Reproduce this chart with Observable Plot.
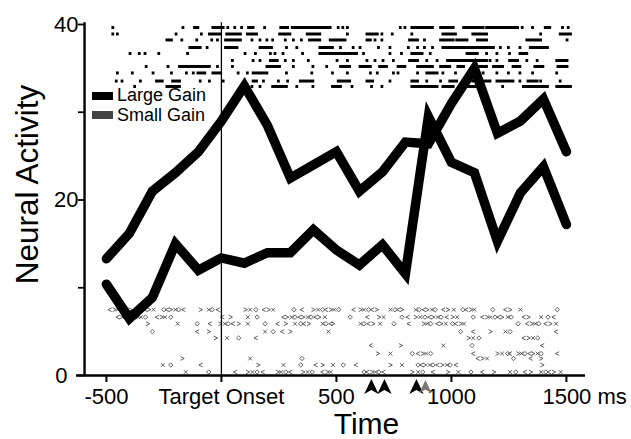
<!DOCTYPE html>
<html><head><meta charset="utf-8">
<script src="https://cdn.jsdelivr.net/npm/d3@7"></script>
<script src="https://cdn.jsdelivr.net/npm/@observablehq/plot@0.6"></script>
<style>
html,body{margin:0;padding:0;background:#fff;}
#chart{position:relative;width:631px;height:439px;overflow:hidden;}
.legend{position:absolute;left:92px;top:86px;font:18px "Liberation Sans",Arial,sans-serif;color:#000;}
.legend .row{display:flex;align-items:center;height:19.5px;white-space:nowrap;}
.legend .sw{width:21px;height:8px;margin-right:4px;}
</style></head><body><div id="chart"></div>
<script>
// ---- data ----
const times = [-500,-400,-300,-200,-100,0,100,200,300,400,500,600,700,800,900,1000,1100,1200,1300,1400,1500];
const largeGain = [13.3,16.2,21.0,23.1,25.5,29.0,33.0,28.5,22.5,24.0,25.5,21.0,23.2,26.6,26.4,31.0,35.0,27.6,29.0,31.5,25.5];
const smallGain = [10.4,6.5,8.9,15.0,12.0,13.4,12.8,14.0,14.0,16.6,14.3,12.6,14.9,11.6,29.5,24.3,23.1,15.3,20.8,23.8,17.2];
const seriesNames = ["Large Gain","Small Gain"];
const seriesSwatch = ["#000","#444"];

const xTicks = [-500,0,500,1000,1500];
const xTickLabels = ["-500","Target Onset","500","1000","1500 ms"];
const yTicks = [0,10,20,30,40];
const yTickLabels = ["0","","20","","40"];
const xTitle = "Time";
const yTitle = "Neural Activity";

// saccade / event markers (ms)
const eventTimes = [652,709,848];
const lateEventTimes = [887];

// top raster (large gain trials): row level and spike times (ms); [a,b] = burst
const topRasterRows = [39.6,38.86,38.18,37.32,36.64,35.84,35.16,34.42,33.5,32.88];
const topRasterSpikes = [
  [-470,-165,[-115,-100],[-35,10],30,60,90,[120,140],190,[260,290],[310,475],510,530,550,780,800,[830,920],[955,1010],[1055,1140],[1155,1290],1310,1355,[1410,1430],1485,1510],
  [-470,-450,-195,-85,[-50,-5],[25,85],[115,155],[255,300],[375,430],550,[635,680],700,745,830,[965,1020],[1095,1155],1390,[1475,1520]],
  [[-235,-215],-170,-105,-40,-15,[20,85],135,170,200,225,280,315,350,[385,430],[475,540],[635,650],670,700,[820,855],885,[955,1010],[1025,1070],[1115,1155],[1330,1390],1505],
  [[-135,-90],-60,[20,70],[170,220],285,330,[430,485],520,575,605,685,735,815,855,885,920,[965,1185],1215,1250,1300,[1345,1420]],
  [-395,-355,-330,-270,-145,105,150,215,235,270,355,[430,590],620,735,785,[830,875],910,[1070,1115],1155,1200,1255,[1300,1330]],
  [50,140,170,[215,245],280,315,380,505,550,635,670,705,750,[820,855],895,940,[985,1155],1170,1200,[1255,1290],1330,1375,[1460,1505]],
  [-325,-230,[-180,-50],-15,50,[200,255],315,400,460,[520,560],[605,650],[690,720],[770,800],[855,920],[955,995],[1030,1055],[1095,1155],[1185,1225],[1270,1300],[1365,1400],[1465,1505]],
  [-450,-385,-295,-215,-150,-120,[-100,-70],[-35,-5],75,115,[140,200],285,395,485,550,650,680,750,770,855,[895,940],965,1020,1090,1140,1200,1250,1300,1355,1460],
  [-455,-430,-350,[-280,-255],[-210,-180],-90,-50,10,[140,155],185,250,290,[345,400],510,[520,560],[635,660],735,[830,855],895,955,[995,1025],[1095,1170],[1200,1270],1300,[1335,1375],1390,1475],
  [-375,[-235,-180],135,170,[225,285],330,400,[485,520],570,655,700,[830,940],[965,1010],[1070,1125],1225,[1315,1420],[1460,1520]]
];

// bottom raster (small gain trials): row level and spike times (ms)
const bottomRasterRows = [7.5,6.65,5.9,5.0,4.27,3.42,2.5,1.94,1.2,0.4];
const bottomRasterSpikes = [
  [-485,-465,-450,-430,-415,-395,-365,-350,-330,-315,-295,-250,-235,-220,-200,-185,-165,-90,-55,-40,-15,105,125,150,185,205,225,315,350,400,420,440,455,475,490,510,575,605,620,640,655,675,735,755,770,785,845,860,880,895,915,930,965,985,1010,1050,1065,1085,1100,1180,1235,1255,1300,1460],
  [-450,-435,-420,-400,-385,-365,-350,-330,-280,-260,-245,-220,5,40,115,155,270,285,305,320,340,355,375,390,410,425,450,560,635,685,705,785,810,845,865,885,905,920,940,955,980,1005,1025,1095,1135,1155,1170,1190,1205,1220,1245,1260,1315,1335,1390,1420,1445],
  [-320,-190,-105,-50,-5,15,30,50,75,115,190,245,280,320,345,360,380,440,455,475,485,605,620,640,660,690,750,815,880,895,910,940,955,975,1005,1020,1040,1055,1290,1330,1350,1365,1380,1410,1430,1455],
  [-300,-105,-55,190,225,265,300,465,1040,1095,1170,1235,1255,1455],
  [-25,25,75,150,1075,1095,1120,1315,1335,1355,1375],
  [650,780,965,1090,1395],
  [680,735,830,855,875,890,910,1095,1200,1220,1245,1255,1290,1305,1320,1340,1355,1375,1390,1460],
  [-170,125,350,1115,1135,1155,1270,1345,1390],
  [-255,-220,-90,160,270,345,410,440,485,530,585,735,785,855,870,885,905,920,940,960,980,995,1020,1395],
  [-155,-55,60,115,135,155,180,245,260,280,300,355,375,395,440,460,475,620,635,655,670,685,705,830,855,875,920,985,1030,1085,1135,1185,1255,1280,1320,1345,1390,1410,1425,1445,1475]
];

// ---- derived tables ----
const seriesValues = [largeGain, smallGain];
const lineData = seriesNames.flatMap((name, k) => times.map((t, i) => ({series: name, t, v: seriesValues[k][i]})));
const topCells = topRasterSpikes.flatMap((row, r) => row.map(s => Array.isArray(s)
  ? {row: topRasterRows[r], t0: s[0], t1: s[1]}
  : {row: topRasterRows[r], t0: s, t1: s}));
const bottomCells = bottomRasterSpikes.flatMap((row, r) => row.map(t => ({row: bottomRasterRows[r], t})));
const xLabelData = xTicks.map((v, i) => ({v, label: xTickLabels[i]}));
const yLabelData = yTicks.map((v, i) => ({v, label: yTickLabels[i]})).filter(d => d.label);

// ---- layout / style constants ----
const font = '"Liberation Sans", Arial, Helvetica, sans-serif';
const yAxisAt = -595;           // ms position of the vertical axis line
const unit = size => Math.sqrt(size / Math.PI);
const glyphSymbols = [
  {draw(c, size) { const s = unit(size); c.moveTo(s, -s); c.lineTo(-s, 0); c.lineTo(s, s); }},          // <
  {draw(c, size) { const s = unit(size); c.moveTo(-s, -s); c.lineTo(s, 0); c.lineTo(-s, s); }},          // >
  {draw(c, size) { const s = unit(size); c.moveTo(-s, -s); c.lineTo(s, s); c.moveTo(s, -s); c.lineTo(-s, s); }}, // x
  {draw(c, size) { const s = unit(size) * 1.15; c.moveTo(0, -s); c.lineTo(s, 0); c.lineTo(0, s); c.lineTo(-s, 0); c.closePath(); }} // diamond
];
const arrowSymbol = {
  draw(ctx, size) {
    const s = unit(size);
    ctx.moveTo(0, -s);
    ctx.lineTo(0.95 * s, s);
    ctx.lineTo(0, 0.45 * s);
    ctx.lineTo(-0.95 * s, s);
    ctx.closePath();
  }
};

const chart = Plot.plot({
  width: 631,
  height: 439,
  marginLeft: 76,
  marginRight: 46,
  marginTop: 24,
  marginBottom: 64,
  style: {fontFamily: font, background: "white", color: "black", overflow: "visible"},
  x: {domain: [-630, 1583]},
  y: {domain: [0, 40], axis: null},
  marks: [
    // rasters
    Plot.rect(topCells, {x1: d => d.t0 - 6, x2: d => d.t1 + 6, y1: d => d.row - 0.17, y2: d => d.row + 0.17, fill: "black"}),
    ...glyphSymbols.map((sym, k) => Plot.dot(bottomCells.filter((d, i) => i % glyphSymbols.length === k),
      {x: "t", y: "row", r: 1.9, symbol: sym, fill: "none", stroke: "#3a3a3a", strokeWidth: 0.8})),
    // target onset line
    Plot.ruleX([0], {y1: 0, y2: 40.2, stroke: "black", strokeWidth: 1.3}),
    // data lines
    Plot.line(lineData, {x: "t", y: "v", z: "series", stroke: "black", strokeWidth: 9.5, strokeLinejoin: "miter", strokeMiterlimit: 4}),
    // axes
    Plot.ruleY([0], {stroke: "black", strokeWidth: 2.4}),
    Plot.ruleX([yAxisAt], {y1: 0, y2: 40.2, stroke: "black", strokeWidth: 2.4}),
    Plot.axisX({ticks: xTicks, tickSize: 7, tickFormat: () => "", strokeWidth: 2}),
    Plot.axisY({ticks: yTicks, tickSize: 6, tickFormat: () => "", dx: 8, strokeWidth: 1.8}),
    // tick labels
    Plot.text(xLabelData.slice(0, -1), {x: "v", text: "label", frameAnchor: "bottom", dy: 28, lineAnchor: "bottom", fontSize: 22, fill: "black"}),
    Plot.text(xLabelData.slice(-1), {x: "v", text: "label", frameAnchor: "bottom", textAnchor: "start", dx: -24, dy: 28, lineAnchor: "bottom", fontSize: 22, fill: "black"}),
    Plot.text(yLabelData.filter(d => d.v > 0), {x: yAxisAt, y: "v", text: "label", textAnchor: "end", dx: -6, fontSize: 22, fill: "black"}),
    Plot.text(yLabelData.filter(d => d.v === 0), {x: yAxisAt, y: "v", text: "label", textAnchor: "end", dx: -17, fontSize: 22, fill: "black"}),
    // titles
    Plot.text([xTitle], {text: d => d, frameAnchor: "bottom", textAnchor: "middle", dx: 35.5, dy: 58, lineAnchor: "bottom", fontSize: 30, fill: "black"}),
    Plot.text([yTitle], {text: d => d, frameAnchor: "left", textAnchor: "middle", dx: -39, dy: -15.5, rotate: -90, lineAnchor: "bottom", fontSize: 31.5, fill: "black"}),
    // event markers
    Plot.dot(eventTimes, {x: d => d, y: 0, dy: 11, r: 7.5, symbol: arrowSymbol, fill: "black", stroke: null}),
    Plot.dot(lateEventTimes, {x: d => d, y: 0, dy: 11, r: 6.5, symbol: arrowSymbol, fill: "#777", stroke: null})
  ]
});

const root = document.getElementById("chart");
root.appendChild(chart);
const legend = document.createElement("div");
legend.className = "legend";
seriesNames.forEach((name, i) => {
  const row = document.createElement("div");
  row.className = "row";
  const sw = document.createElement("span");
  sw.className = "sw";
  sw.style.background = seriesSwatch[i];
  const label = document.createElement("span");
  label.textContent = name;
  row.appendChild(sw);
  row.appendChild(label);
  legend.appendChild(row);
});
root.appendChild(legend);
</script>
</body></html>
